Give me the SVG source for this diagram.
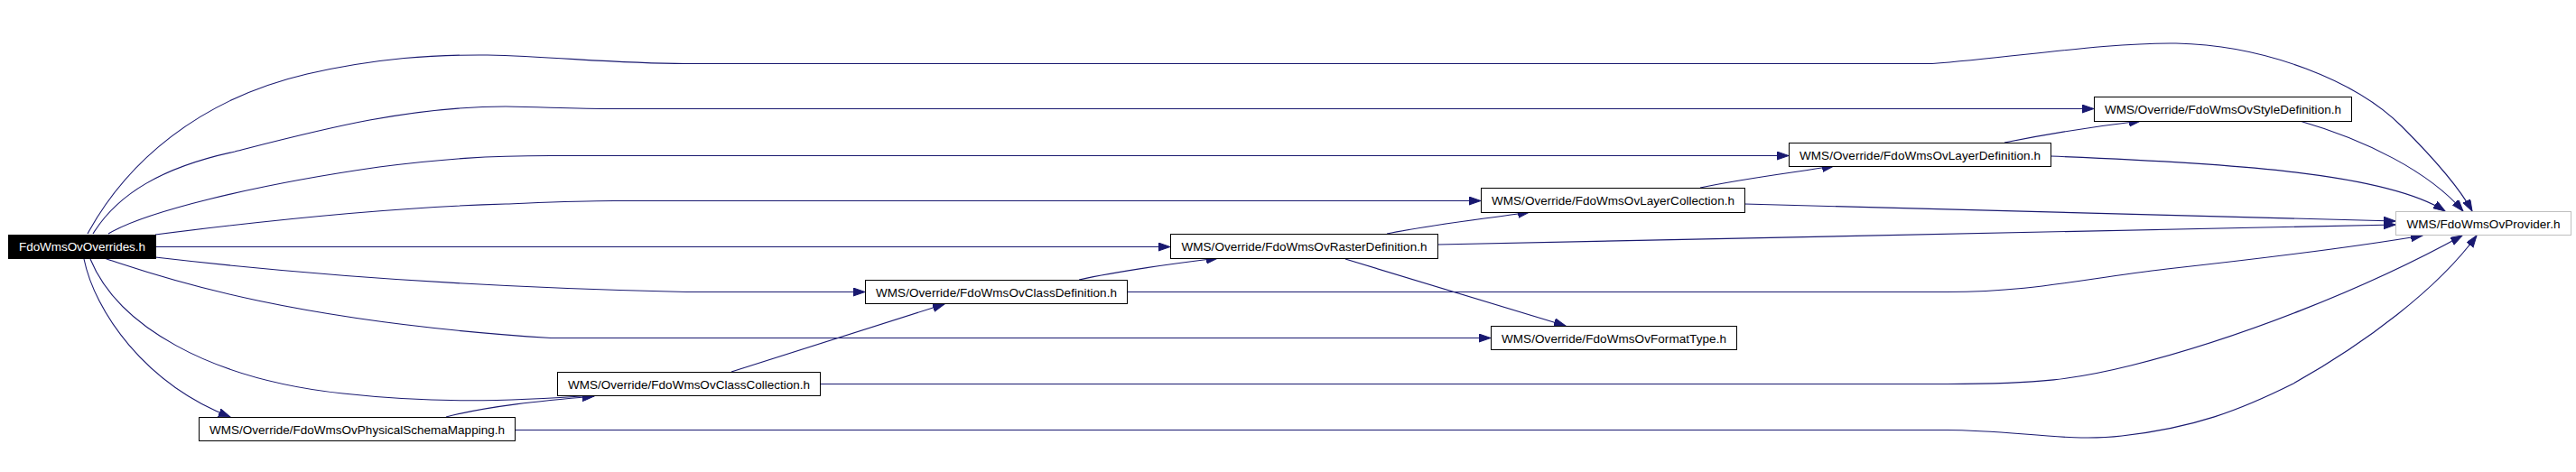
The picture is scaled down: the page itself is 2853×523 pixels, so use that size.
<svg xmlns="http://www.w3.org/2000/svg" width="2853" height="523" viewBox="0 0 2853 523">
<style>
.bg{fill:#ffffff}
.node rect{fill:#ffffff;stroke:#000000;stroke-width:1}
.node text{font-family:"Liberation Sans",Arial,sans-serif;font-size:13.5px;fill:#000000;text-anchor:middle}
#n_overrides rect{fill:#000000}
#n_overrides text{fill:#ffffff}
#n_provider rect{stroke:#bfbfbf}
.edges path{fill:none;stroke:#191970;stroke-width:1.1}
</style>
<defs>
<marker id="arr" markerUnits="userSpaceOnUse" markerWidth="14" markerHeight="10" refX="13" refY="4.5" orient="auto">
<path d="M0,0 L13,4.5 L0,9 z" fill="#191970" stroke="#191970" stroke-width="1"/>
</marker>
</defs>
<rect class="bg" x="0" y="0" width="2853" height="523"/>
<g id="edges" class="edges">
<path d="M97,259 C140,180 220,110 340,82 C420,64 480,60.5 540,61 C620,63 680,70.5 760,70.5 L2140,70.5 C2230,64 2330,47 2410,48 C2510,50 2610,90 2660,140 C2700,180 2725,210 2738,234" marker-end="url(#arr)"/>
<path d="M103,259 C130,215 180,185 260,168 C350,145 450,118 560,118 C610,119 640,120.5 680,120.5 L2319,120.5" marker-end="url(#arr)"/>
<path d="M120,259 C160,235 280,205 420,185 C490,176 540,172.5 610,172.5 L1981,172.5" marker-end="url(#arr)"/>
<path d="M172,260 C250,250 420,230 560,226 C610,224 640,222.5 680,222.5 L1640,222.5" marker-end="url(#arr)"/>
<path d="M172,273.5 L1296,273.5" marker-end="url(#arr)"/>
<path d="M172,285 C300,300 500,318 760,323.5 L958,323.5" marker-end="url(#arr)"/>
<path d="M115,286 C160,300 300,355 610,374.5 L1651,374.5" marker-end="url(#arr)"/>
<path d="M100,287 C130,360 230,420 380,436 C480,447 560,445 660,438" marker-end="url(#arr)"/>
<path d="M93,287 C105,345 160,425 255,462" marker-end="url(#arr)"/>
<path d="M494,462 C540,450 600,444 658,439" marker-end="url(#arr)"/>
<path d="M570,476.5 L2156,476.5 C2230,476.5 2290,490 2350,483 C2430,474 2480,455 2540,425 C2620,380 2700,320 2743,261" marker-end="url(#arr)"/>
<path d="M810,412 L1046,337" marker-end="url(#arr)"/>
<path d="M908,425.5 L2156,425.5 C2260,425.5 2300,420 2360,405 C2480,375 2620,320 2727,261" marker-end="url(#arr)"/>
<path d="M1195,310 C1240,300 1300,292 1349,286" marker-end="url(#arr)"/>
<path d="M1248,323.5 L2156,323.5 C2250,323.5 2300,310 2400,298 C2500,287 2600,275 2683,261" marker-end="url(#arr)"/>
<path d="M1536,259 C1580,250 1640,243 1694,235" marker-end="url(#arr)"/>
<path d="M1592,271 L2653,249" marker-end="url(#arr)"/>
<path d="M1490,287 L1734,361" marker-end="url(#arr)"/>
<path d="M1883,208 C1930,198 1980,192 2031,184" marker-end="url(#arr)"/>
<path d="M1932,226 L2653,245" marker-end="url(#arr)"/>
<path d="M2220,158 C2270,148 2320,140 2371,134" marker-end="url(#arr)"/>
<path d="M2271,173 C2450,180 2640,190 2708,234" marker-end="url(#arr)"/>
<path d="M2547,134 C2620,155 2690,190 2728,234" marker-end="url(#arr)"/>
</g>
<g id="n_overrides" class="node"><rect x="9.5" y="260.5" width="163" height="26"/><text x="91" y="278" textLength="140" lengthAdjust="spacing">FdoWmsOvOverrides.h</text></g>
<g id="n_style" class="node"><rect x="2319.5" y="107.5" width="285" height="27"/><text x="2462" y="125.5" textLength="262" lengthAdjust="spacing">WMS/Override/FdoWmsOvStyleDefinition.h</text></g>
<g id="n_layerdef" class="node"><rect x="1981.5" y="158.5" width="290" height="26"/><text x="2126.5" y="176.5" textLength="267" lengthAdjust="spacing">WMS/Override/FdoWmsOvLayerDefinition.h</text></g>
<g id="n_layercoll" class="node"><rect x="1640.5" y="208.5" width="292" height="27"/><text x="1786.5" y="226.5" textLength="269" lengthAdjust="spacing">WMS/Override/FdoWmsOvLayerCollection.h</text></g>
<g id="n_provider" class="node"><rect x="2653.5" y="234.5" width="194" height="26"/><text x="2750.5" y="252.5" textLength="170" lengthAdjust="spacing">WMS/FdoWmsOvProvider.h</text></g>
<g id="n_raster" class="node"><rect x="1296.5" y="259.5" width="296" height="27"/><text x="1444.5" y="277.5" textLength="272" lengthAdjust="spacing">WMS/Override/FdoWmsOvRasterDefinition.h</text></g>
<g id="n_classdef" class="node"><rect x="958.5" y="310.5" width="290" height="26"/><text x="1103.5" y="328.5" textLength="267" lengthAdjust="spacing">WMS/Override/FdoWmsOvClassDefinition.h</text></g>
<g id="n_format" class="node"><rect x="1651.5" y="361.5" width="272" height="26"/><text x="1787.5" y="379.5" textLength="249" lengthAdjust="spacing">WMS/Override/FdoWmsOvFormatType.h</text></g>
<g id="n_classcoll" class="node"><rect x="617.5" y="412.5" width="291" height="26"/><text x="763" y="430.5" textLength="268" lengthAdjust="spacing">WMS/Override/FdoWmsOvClassCollection.h</text></g>
<g id="n_physical" class="node"><rect x="220.5" y="462.5" width="350" height="26"/><text x="395.5" y="480.5" textLength="327" lengthAdjust="spacing">WMS/Override/FdoWmsOvPhysicalSchemaMapping.h</text></g>
</svg>
